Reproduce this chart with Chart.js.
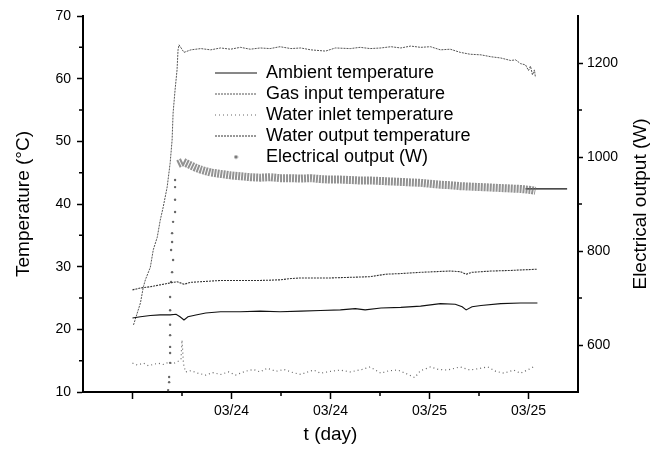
<!DOCTYPE html>
<html>
<head>
<meta charset="utf-8">
<script src="https://cdn.jsdelivr.net/npm/chart.js@4.4.1/dist/chart.umd.min.js"></script>
<style>
  html, body { margin: 0; padding: 0; background: #fff; }
  #wrap { width: 651px; height: 450px; }
</style>
</head>
<body>
<div id="wrap"><canvas id="chart" width="651" height="450"></canvas></div>
<script>
// x in "tick units": 0..4 are the major ticks on the time axis
const xTickValues = [0, 1, 2, 3, 4];
const xTickLabels = ['', '03/24', '03/24', '03/25', '03/25'];
const xMinor = [0.5, 1.5, 2.5, 3.5];
const tempTicks = [10, 20, 30, 40, 50, 60, 70];
const tempMinor = [15, 25, 35, 45, 55, 65];
const powerTicks = [600, 800, 1000, 1200];
const powerMinor = [700, 900, 1100];

const seriesNames = ['Ambient temperature', 'Gas input temperature', 'Water inlet temperature',
                     'Water output temperature', 'Electrical output (W)'];

// [x, °C]
const ambient = [[0,21.8],[0.08,22.0],[0.18,22.2],[0.28,22.3],[0.38,22.3],[0.44,22.4],[0.48,22.0],[0.52,21.5],
  [0.56,22.0],[0.64,22.3],[0.74,22.6],[0.89,22.8],[1.09,22.8],[1.29,22.9],[1.49,22.8],[1.70,22.9],[1.90,23.0],
  [2.10,23.1],[2.25,23.3],[2.35,23.1],[2.51,23.4],[2.71,23.5],[2.91,23.7],[3.11,24.1],[3.26,24.0],[3.33,23.6],
  [3.37,23.1],[3.43,23.6],[3.52,23.8],[3.72,24.1],[3.92,24.2],[4.09,24.2]];

const gasIn = [[0.01,20.7],[0.08,24.2],[0.11,26.8],[0.13,27.9],[0.18,29.9],[0.21,32.7],[0.25,34.7],[0.28,37.4],
  [0.31,39.5],[0.35,42.7],[0.38,46.5],[0.40,50.2],[0.41,54.5],[0.43,58.2],[0.45,61.4],[0.46,64.6],[0.47,65.4],
  [0.52,64.2],[0.59,64.6],[0.69,64.8],[0.79,64.6],[0.89,64.9],[0.99,64.7],[1.09,65.0],[1.19,64.7],[1.29,64.9],
  [1.39,64.8],[1.49,65.1],[1.60,64.8],[1.70,64.9],[1.80,64.6],[1.95,64.4],[2.05,64.9],[2.20,64.8],[2.30,65.0],
  [2.40,64.8],[2.51,64.9],[2.61,65.1],[2.71,64.9],[2.81,65.2],[2.91,65.0],[3.01,65.1],[3.11,64.6],[3.21,64.7],
  [3.31,64.2],[3.41,63.9],[3.52,63.8],[3.62,63.5],[3.72,63.3],[3.82,62.9],[3.87,63.0],[3.92,62.4],[3.97,62.2],
  [4.00,61.3],[4.02,62.0],[4.04,60.6],[4.06,61.4],[4.07,60.2]];

const waterIn = [[0,14.6],[0.05,14.3],[0.11,14.6],[0.16,14.2],[0.21,14.4],[0.26,14.6],[0.31,14.4],[0.36,14.7],
  [0.41,14.5],[0.46,14.9],[0.49,15.2],[0.50,18.3],[0.515,14.5],[0.535,13.2],[0.59,13.4],[0.66,13.0],[0.74,12.7],
  [0.81,13.1],[0.89,12.8],[0.97,13.2],[1.04,12.7],[1.14,13.3],[1.22,13.6],[1.29,13.2],[1.36,13.8],[1.45,13.3],
  [1.53,13.6],[1.62,13.1],[1.70,12.8],[1.77,13.2],[1.83,13.5],[1.90,13.0],[2.00,13.3],[2.10,13.5],[2.20,13.2],
  [2.32,13.6],[2.40,14.0],[2.51,13.0],[2.59,13.4],[2.68,13.5],[2.77,12.9],[2.85,12.3],[2.91,13.4],[3.01,14.0],
  [3.09,13.6],[3.18,13.5],[3.26,13.8],[3.31,14.0],[3.41,13.5],[3.52,13.8],[3.59,14.0],[3.67,13.3],[3.75,13.0],
  [3.85,13.5],[3.92,13.0],[4.00,13.6],[4.05,14.0]];

const waterOut = [[0,26.3],[0.08,26.6],[0.18,26.8],[0.28,27.1],[0.38,27.4],[0.45,27.6],[0.52,27.2],[0.59,27.5],
  [0.69,27.6],[0.89,27.8],[1.09,27.8],[1.29,27.8],[1.49,27.9],[1.60,28.1],[1.70,28.2],[2.00,28.2],[2.20,28.3],
  [2.40,28.4],[2.56,28.8],[2.71,28.9],[2.91,29.1],[3.21,29.3],[3.31,29.2],[3.37,28.8],[3.43,29.1],[3.62,29.3],
  [3.82,29.4],[4.09,29.6]];

// [x, W]
const elecOut = [[0.46,985],[0.51,990],[0.55,986],[0.59,982],[0.64,977],[0.69,973],[0.79,967],[0.89,964],
  [0.99,961],[1.09,959],[1.19,957],[1.29,956],[1.39,957],[1.49,955],[1.60,955],[1.70,954],[1.80,955],[1.90,953],
  [2.00,952],[2.10,952],[2.20,951],[2.30,950],[2.40,950],[2.51,949],[2.61,948],[2.71,947],[2.81,946],[2.91,945],
  [3.01,943],[3.11,941],[3.21,940],[3.31,938],[3.41,937],[3.52,936],[3.62,935],[3.72,934],[3.82,933],[3.92,932],
  [4.02,930],[4.07,928]];
const elecStart = [[0.36,504],[0.37,521],[0.37,532],[0.38,562],[0.38,583],[0.38,596],[0.38,621],[0.38,643],
  [0.38,674],[0.38,702],[0.39,734],[0.40,755],[0.41,781],[0.39,802],[0.40,819],[0.40,838],[0.41,862],
  [0.43,883],[0.43,909],[0.43,936],[0.43,951]];
const elecTail = [[3.97,932],[4.39,932]];

const FONT = '"Liberation Sans", Arial, Helvetica, sans-serif';
const pts = arr => arr.map(p => ({x: p[0], y: p[1]}));

// small grey dot used as the legend symbol of the electrical output
const dot = document.createElement('canvas');
dot.width = 5; dot.height = 5;
const dctx = dot.getContext('2d');
dctx.fillStyle = '#777';
dctx.beginPath(); dctx.arc(2.5, 2.5, 1.8, 0, Math.PI * 2); dctx.fill();

const lineDs = (label, data, color, dash, width) => ({
  label: label, data: pts(data), yAxisID: 'y', borderColor: color, borderDash: dash,
  borderWidth: width, pointRadius: 0, tension: 0, fill: false
});

const datasets = [
  lineDs(seriesNames[0], ambient, '#111', [], 1.1),
  lineDs(seriesNames[1], gasIn, '#555', [2, 1], 1),
  lineDs(seriesNames[2], waterIn, '#666', [1, 3], 1.2),
  lineDs(seriesNames[3], waterOut, '#333', [2, 1], 1.1),
  { label: seriesNames[4], data: pts(elecOut), yAxisID: 'y2', borderColor: 'rgba(110,110,110,0.75)',
    borderDash: [2, 1], borderWidth: 8, pointRadius: 0, tension: 0, fill: false },
  { label: 'start', data: pts(elecStart), yAxisID: 'y2', showLine: false, pointRadius: 1.2,
    pointBackgroundColor: '#666', pointBorderWidth: 0 },
  { label: 'tail', data: pts(elecTail), yAxisID: 'y2', borderColor: '#111', borderWidth: 1.2, pointRadius: 0 }
];

const placeLegend = {
  id: 'placeLegend',
  afterLayout(chart) {
    const lg = chart.legend;
    if (!lg) return;
    lg.left = 212; lg.top = 61;
    lg.right = lg.left + lg.width; lg.bottom = lg.top + lg.height;
  }
};

const extras = {
  id: 'extras',
  afterDraw(chart) {
    const ctx = chart.ctx;
    const {x, y, y2} = chart.scales;
    ctx.save();
    ctx.strokeStyle = '#000';
    ctx.lineWidth = 1.5;
    ctx.beginPath();
    xMinor.forEach(v => { const p = x.getPixelForValue(v); ctx.moveTo(p, x.top); ctx.lineTo(p, x.top + 4); });
    tempMinor.forEach(v => { const p = y.getPixelForValue(v); ctx.moveTo(y.right - 4, p); ctx.lineTo(y.right, p); });
    powerMinor.forEach(v => { const p = y2.getPixelForValue(v); ctx.moveTo(y2.left, p); ctx.lineTo(y2.left + 4, p); });
    ctx.stroke();
    // right axis title reads bottom to top like the left one
    ctx.fillStyle = '#000';
    ctx.font = '19px ' + FONT;
    ctx.textAlign = 'center';
    ctx.textBaseline = 'middle';
    ctx.translate(641, (chart.chartArea.top + chart.chartArea.bottom) / 2);
    ctx.rotate(-Math.PI / 2);
    ctx.fillText('Electrical output (W)', 0, 0);
    ctx.restore();
  }
};

const axisGrid = len => ({ display: true, drawOnChartArea: false, drawTicks: true, tickLength: len,
  color: '#000', tickColor: '#000', tickWidth: 1.5 });
const axisBorder = { display: true, color: '#000', width: 2 };
const tickFont = { family: FONT, size: 14 };

new Chart(document.getElementById('chart'), {
  type: 'line',
  data: { datasets: datasets },
  options: {
    responsive: false,
    animation: false,
    devicePixelRatio: 1,
    layout: { padding: { top: 16, left: 0, right: 0, bottom: 0 } },
    plugins: {
      tooltip: { enabled: false },
      title: { display: false },
      legend: {
        position: 'chartArea',
        align: 'start',
        labels: {
          usePointStyle: true,
          pointStyleWidth: 42,
          boxWidth: 42,
          padding: 3,
          color: '#000',
          font: { family: FONT, size: 18 },
          generateLabels: chart => chart.data.datasets.slice(0, 5).map((d, i) => ({
            text: d.label,
            datasetIndex: i,
            hidden: false,
            fillStyle: i === 4 ? '#777' : 'transparent',
            strokeStyle: i === 4 ? '#777' : d.borderColor,
            lineWidth: i === 4 ? 0 : 1,
            lineDash: i === 4 ? [] : (d.borderDash || []),
            pointStyle: i === 4 ? dot : 'line',
            fontColor: '#000'
          }))
        }
      }
    },
    scales: {
      x: {
        type: 'linear', position: 'bottom', min: -0.5, max: 4.5,
        grid: axisGrid(7), border: axisBorder,
        afterBuildTicks: s => { s.ticks = xTickValues.map(v => ({ value: v })); },
        afterFit: s => { s.height = 58; },
        ticks: { color: '#000', font: tickFont, padding: 4, maxRotation: 0, autoSkip: false,
                 callback: v => xTickLabels[xTickValues.indexOf(v)] },
        title: { display: true, text: 't (day)', color: '#000', font: { family: FONT, size: 19 },
                 padding: { top: 0, bottom: 4 } }
      },
      y: {
        type: 'linear', position: 'left', min: 10, max: 70,
        grid: axisGrid(6), border: axisBorder,
        afterBuildTicks: s => { s.ticks = tempTicks.map(v => ({ value: v })); },
        afterFit: s => { s.width = 83; },
        ticks: { color: '#000', font: tickFont, padding: 6, callback: v => String(v) },
        title: { display: true, text: 'Temperature (°C)', color: '#000', font: { family: FONT, size: 19 },
                 padding: { top: 12, bottom: 0 } }
      },
      y2: {
        type: 'linear', position: 'right', min: 500, max: 1300,
        grid: axisGrid(5), border: axisBorder,
        afterBuildTicks: s => { s.ticks = powerTicks.map(v => ({ value: v })); },
        afterFit: s => { s.width = 73; },
        ticks: { color: '#000', font: tickFont, padding: 4, callback: v => String(v) }
      }
    }
  },
  plugins: [placeLegend, extras]
});
</script>
</body>
</html>
